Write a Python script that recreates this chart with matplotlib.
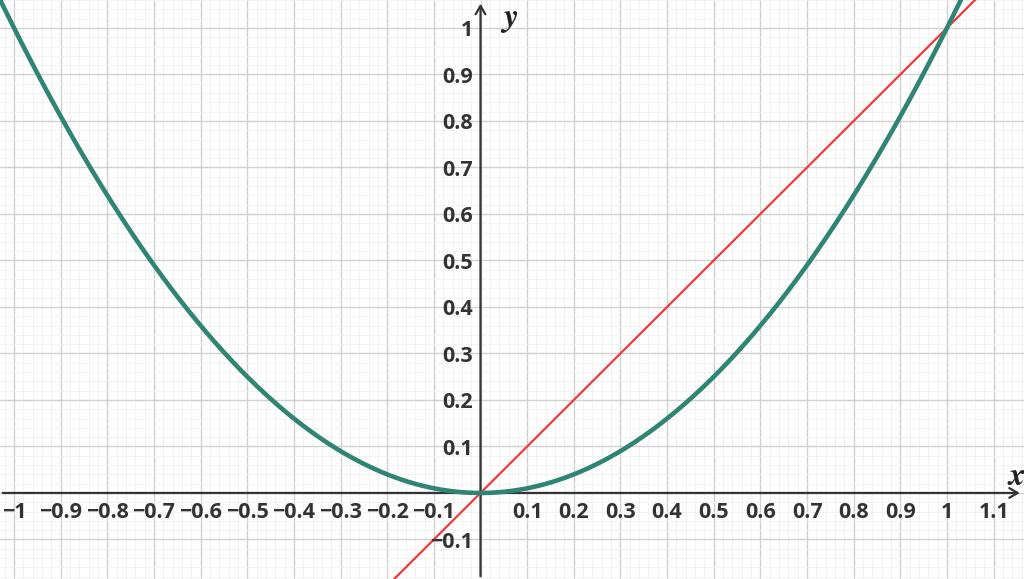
import numpy as np
import matplotlib
matplotlib.use("Agg")
import matplotlib.pyplot as plt
from matplotlib.ticker import MultipleLocator

# view window
x_min, x_max = -1.03, 1.165
y_min, y_max = -0.185, 1.06

# functions shown: y = x^2 and y = x
x_vals = np.linspace(x_min, x_max, 600)
parabola = x_vals ** 2
line = x_vals

x_ticks = [-1, -0.9, -0.8, -0.7, -0.6, -0.5, -0.4, -0.3, -0.2, -0.1,
           0.1, 0.2, 0.3, 0.4, 0.5, 0.6, 0.7, 0.8, 0.9, 1, 1.1]
y_ticks = [-0.1, 0.1, 0.2, 0.3, 0.4, 0.5, 0.6, 0.7, 0.8, 0.9, 1]

def fmt(v):
    s = f"{v:.1f}".rstrip("0").rstrip(".")
    return s.replace("-", "\u2212")

fig = plt.figure(figsize=(10.24, 5.79), dpi=100)
ax = fig.add_axes([0, 0, 1, 1])
ax.set_xlim(x_min, x_max)
ax.set_ylim(y_min, y_max)

# grid
ax.xaxis.set_major_locator(MultipleLocator(0.1))
ax.yaxis.set_major_locator(MultipleLocator(0.1))
ax.xaxis.set_minor_locator(MultipleLocator(0.02))
ax.yaxis.set_minor_locator(MultipleLocator(0.02))
ax.grid(which="major", color="#d0d0d0", lw=1.0)
ax.grid(which="minor", color="#f0f0f0", lw=0.6)
ax.set_axisbelow(True)
ax.tick_params(which="both", length=0, labelbottom=False, labelleft=False)
for s in ax.spines.values():
    s.set_visible(False)

# axes with arrows
ax.annotate("", xy=(x_max - 0.003, 0), xytext=(x_min, 0),
            arrowprops=dict(arrowstyle="->,head_length=0.6,head_width=0.35",
                            color="#333333", lw=1.6), zorder=2)
ax.annotate("", xy=(0, y_max - 0.002), xytext=(0, y_min),
            arrowprops=dict(arrowstyle="->,head_length=0.6,head_width=0.35",
                            color="#333333", lw=1.6), zorder=2)

# curves
ax.plot(x_vals, line, color="#f03a3a", lw=1.6, zorder=3)
ax.plot(x_vals, parabola, color="#2f8474", lw=3.3, zorder=4,
        solid_capstyle="round")

# tick labels
lab = dict(fontsize=15.5, color="#333333", family=["Open Sans", "DejaVu Sans"],
           fontweight="bold")
for v in x_ticks:
    ax.text(v, -0.042, fmt(v), ha="center", va="center", **lab)
for v in y_ticks:
    ax.text(-0.016, v - 0.006, fmt(v), ha="right", va="center", **lab)

axlab = dict(fontsize=24, family="STIXGeneral", style="italic",
             fontweight="bold", color="#222222", ha="center", va="center")
ax.text(1.149, 0.034, "x", **axlab)
ax.text(0.064, 1.022, "y", **axlab)

fig.savefig("out.png", dpi=100)
